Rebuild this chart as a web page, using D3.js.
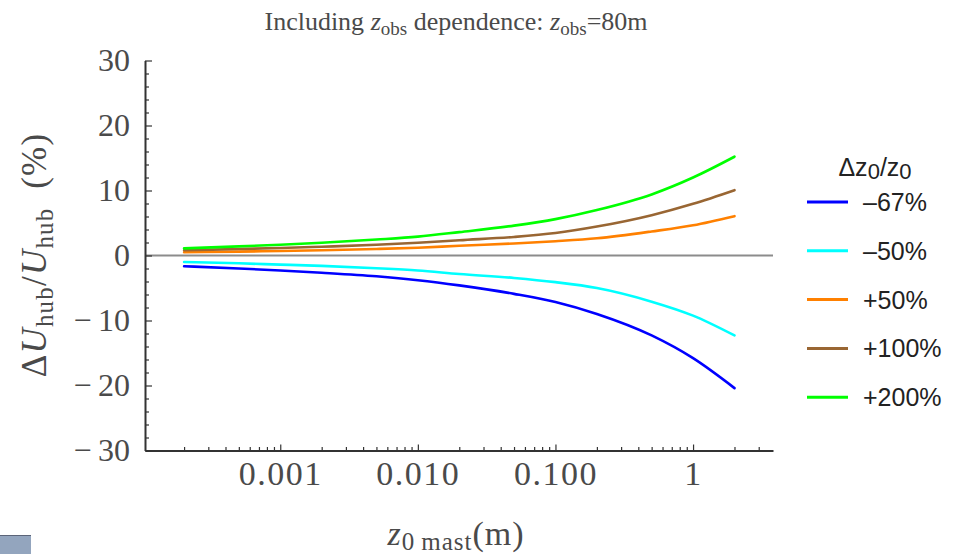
<!DOCTYPE html>
<html>
<head>
<meta charset="utf-8">
<script src="https://cdn.jsdelivr.net/npm/d3@7"></script>
<style>
  html, body { margin: 0; padding: 0; background: #fff; }
  svg { display: block; }
</style>
</head>
<body>
<div id="container"></div>
<script>
/* DATA */
// roughness length at the mast (m), sample points along the curves
const z0Mast = [0.0002, 0.0005, 0.001, 0.002, 0.005, 0.01, 0.02, 0.05, 0.1, 0.2, 0.5, 1, 2];

// change of hub wind speed (%) for each relative change of z0
const dzMinus67 = [-1.65, -2.0, -2.3, -2.65, -3.2, -3.8, -4.6, -5.9, -7.15, -9.0, -12.3, -15.8, -20.4];
const dzMinus50 = [-1.0, -1.2, -1.4, -1.6, -1.95, -2.3, -2.85, -3.45, -4.1, -5.0, -7.1, -9.25, -12.3];
const dzPlus50 = [0.5, 0.6, 0.7, 0.8, 1.0, 1.2, 1.5, 1.85, 2.2, 2.65, 3.7, 4.65, 6.05];
const dzPlus100 = [0.8, 1.0, 1.15, 1.35, 1.65, 1.95, 2.35, 2.85, 3.45, 4.45, 6.2, 7.95, 10.05];
const dzPlus200 = [1.1, 1.4, 1.65, 1.95, 2.45, 2.9, 3.6, 4.6, 5.6, 7.0, 9.4, 12.0, 15.2];

const seriesLabels = ["\u201367%", "\u201350%", "+50%", "+100%", "+200%"];
const seriesColors = ["#0000ff", "#00ffff", "#ff8000", "#996633", "#00ff00"];

const yTicks = [-30, -20, -10, 0, 10, 20, 30];
const xTicks = [0.001, 0.01, 0.1, 1];
const xTickLabels = ["0.001", "0.010", "0.100", "1"];

/* CONSTANTS */
const width = 966, height = 554;
const serif = "'Liberation Serif', 'Times New Roman', serif";
const sans = "'Liberation Sans', Arial, sans-serif";
const textColor = "#4a4a4a";
const axisColor = "#333";

const series = [dzMinus67, dzMinus50, dzPlus50, dzPlus100, dzPlus200].map((vals, i) => ({
  label: seriesLabels[i],
  color: seriesColors[i],
  values: vals.map((v, j) => ({ x: z0Mast[j], y: v }))
}));

const svg = d3.select("#container")
  .append("svg")
  .attr("width", width)
  .attr("height", height);

/* SCALES */
const xScale = d3.scaleLog()
  .domain([1.04e-4, 3.81])
  .range([145, 773]);

const yScale = d3.scaleLinear()
  .domain([-30, 30])
  .range([450.5, 60.5]);

// minor ticks
const xMinor = [];
[1e-4, 1e-3, 1e-2, 1e-1, 1].forEach(dec => {
  for (let k = 2; k <= 9; k++) {
    const v = dec * k;
    if (v > xScale.domain()[0] && v < xScale.domain()[1]) xMinor.push(v);
  }
});
const yMinor = d3.range(-30, 31, 2).filter(v => v % 10 !== 0);

// zero line
svg.append("line")
  .attr("x1", xScale.range()[0])
  .attr("x2", xScale.range()[1])
  .attr("y1", yScale(0))
  .attr("y2", yScale(0))
  .attr("stroke", "#8c8c8c")
  .attr("stroke-width", 2);

/* AXES */
const xAxisG = svg.append("g")
  .attr("transform", `translate(0,${yScale(-30)})`);

xAxisG.append("g")
  .call(d3.axisBottom(xScale).tickValues(xMinor).tickFormat("").tickSize(-3.5).tickSizeOuter(0))
  .call(g => g.select(".domain").remove());

xAxisG.append("g")
  .attr("class", "xmajor")
  .call(d3.axisBottom(xScale)
    .tickValues(xTicks)
    .tickFormat((d, i) => xTickLabels[i])
    .tickSize(-6)
    .tickSizeOuter(0)
    .tickPadding(10));

const yAxisG = svg.append("g")
  .attr("transform", `translate(${xScale.range()[0]},0)`);

yAxisG.append("g")
  .call(d3.axisLeft(yScale).tickValues(yMinor).tickFormat("").tickSize(-4).tickSizeOuter(0))
  .call(g => g.select(".domain").remove());

yAxisG.append("g")
  .call(d3.axisLeft(yScale)
    .tickValues(yTicks)
    .tickFormat(d => d < 0 ? "\u2212\u2009" + Math.abs(d) : d)
    .tickSize(-7)
    .tickSizeOuter(0)
    .tickPadding(15));

svg.selectAll(".domain")
  .attr("stroke", axisColor)
  .attr("stroke-width", 2);
svg.selectAll(".tick line")
  .attr("stroke", axisColor)
  .attr("stroke-width", 1.2);
svg.selectAll(".tick text")
  .attr("font-family", serif)
  .attr("font-size", 32)
  .attr("fill", textColor);
svg.selectAll(".xmajor .tick text")
  .attr("font-size", 34)
  .attr("letter-spacing", 1.5);

/* LINES */
const line = d3.line()
  .x(d => xScale(d.x))
  .y(d => yScale(d.y))
  .curve(d3.curveMonotoneX);

svg.append("g")
  .selectAll("path")
  .data(series)
  .join("path")
  .attr("d", d => line(d.values))
  .attr("fill", "none")
  .attr("stroke", d => d.color)
  .attr("stroke-width", 2.6)
  .attr("stroke-linecap", "round");

/* TITLE */
const title = svg.append("text")
  .attr("x", 456)
  .attr("y", 30)
  .attr("text-anchor", "middle")
  .attr("font-family", serif)
  .attr("font-size", 26)
  .attr("fill", textColor);
title.append("tspan").text("Including ");
title.append("tspan").attr("font-style", "italic").text("z");
title.append("tspan").attr("font-size", 19).attr("dy", 5).text("obs");
title.append("tspan").attr("dy", -5).text(" dependence: ");
title.append("tspan").attr("font-style", "italic").text("z");
title.append("tspan").attr("font-size", 19).attr("dy", 5).text("obs");
title.append("tspan").attr("dy", -5).text("=80m");

/* AXIS LABELS */
const yLabel = svg.append("text")
  .attr("transform", "translate(46,255) rotate(-90)")
  .attr("text-anchor", "middle")
  .attr("font-family", serif)
  .attr("font-size", 35)
  .attr("letter-spacing", 1.2)
  .attr("fill", textColor);
yLabel.append("tspan").text("\u0394");
yLabel.append("tspan").attr("font-style", "italic").text("U");
yLabel.append("tspan").attr("font-size", 25).attr("dy", 7).text("hub");
yLabel.append("tspan").attr("dy", -7).text("/");
yLabel.append("tspan").attr("font-style", "italic").text("U");
yLabel.append("tspan").attr("font-size", 25).attr("dy", 7).text("hub");
yLabel.append("tspan").attr("dy", -7).text("\u2002(%)");

const xLabel = svg.append("text")
  .attr("x", 456)
  .attr("y", 545)
  .attr("text-anchor", "middle")
  .attr("font-family", serif)
  .attr("font-size", 34)
  .attr("letter-spacing", 1)
  .attr("fill", textColor);
xLabel.append("tspan").attr("font-style", "italic").text("z");
xLabel.append("tspan").attr("font-size", 25).attr("dy", 5).text("0\u2009mast");
xLabel.append("tspan").attr("dy", -5).text("(m)");

/* LEGEND */
const legend = svg.append("g");
const legTitle = legend.append("text")
  .attr("x", 875)
  .attr("y", 176)
  .attr("text-anchor", "middle")
  .attr("font-family", sans)
  .attr("font-size", 25)
  .attr("fill", "#222");
legTitle.append("tspan").text("\u0394z");
legTitle.append("tspan").attr("font-size", 22).attr("dy", 3).text("0");
legTitle.append("tspan").attr("dy", -3).text("/z");
legTitle.append("tspan").attr("font-size", 22).attr("dy", 3).text("0");

const legItem = legend.selectAll("g.item")
  .data(series)
  .join("g")
  .attr("class", "item")
  .attr("transform", (d, i) => `translate(807,${202 + i * 48.8})`);
legItem.append("line")
  .attr("x1", 0).attr("x2", 41)
  .attr("stroke", d => d.color)
  .attr("stroke-width", 3);
legItem.append("text")
  .attr("x", 56)
  .attr("y", 9)
  .attr("font-family", sans)
  .attr("font-size", 25)
  .attr("fill", "#222")
  .text(d => d.label);

/* corner tab */
svg.append("rect")
  .attr("x", 0).attr("y", 535)
  .attr("width", 31).attr("height", 19)
  .attr("fill", "#93a5be");
svg.append("line")
  .attr("x1", 0).attr("x2", 31)
  .attr("y1", 535.5).attr("y2", 535.5)
  .attr("stroke", "#5b6478");
</script>
</body>
</html>
